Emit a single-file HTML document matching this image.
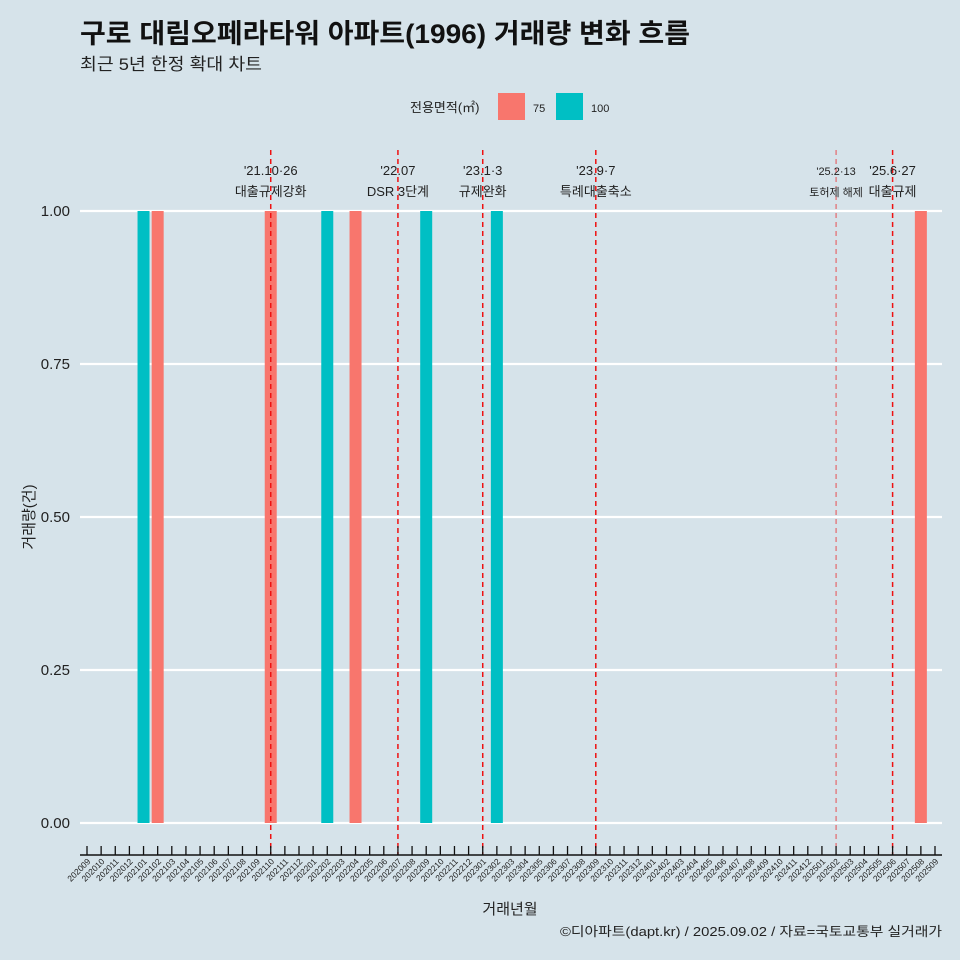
<!DOCTYPE html>
<html><head><meta charset="utf-8"><style>
body{margin:0;background:#d6e3ea;font-family:"Liberation Sans","Noto Sans CJK KR",sans-serif;}
svg{display:block}
</style></head><body>
<svg width="960" height="960" id="c" font-family="Liberation Sans, Noto Sans CJK KR, sans-serif">
<rect width="960" height="960" fill="#d6e3ea"/>
<text x="80" y="43" font-size="27" font-weight="bold" fill="#111" textLength="610" lengthAdjust="spacingAndGlyphs">구로 대림오페라타워 아파트(1996) 거래량 변화 흐름</text>
<text x="80" y="70" font-size="17" fill="#222" textLength="182" lengthAdjust="spacingAndGlyphs">최근 5년 한정 확대 차트</text>
<g>
<text x="410" y="112" font-size="13" fill="#222">전용면적(㎡)</text>
<rect x="498" y="93" width="27" height="27" fill="#f8766d"/>
<text x="533" y="112" font-size="11" fill="#222">75</text>
<rect x="556" y="93" width="27" height="27" fill="#00bfc4"/>
<text x="591" y="112" font-size="11" fill="#222">100</text>
</g>
<g id="grid"></g><g id="bars"></g><g id="events"></g><g id="xaxis"></g><g id="yaxis"></g>
<text x="510" y="914" font-size="15" text-anchor="middle" fill="#222">거래년월</text>
<text transform="translate(34,517) rotate(-90)" font-size="15" text-anchor="middle" fill="#222">거래량(건)</text>
<text x="560" y="936" font-size="13" fill="#222" textLength="382" lengthAdjust="spacingAndGlyphs">©디아파트(dapt.kr) / 2025.09.02 / 자료=국토교통부 실거래가</text>
</svg>
<script>
const months=[];for(let y=2020;y<=2025;y++)for(let m=1;m<=12;m++){const k=y*100+m;if(k>=202009&&k<=202509)months.push(String(k));}
const barMonths=["202101","202102","202110","202202","202204","202209","202302","202508"];
const barSizes=["100","75","75","100","75","100","100","75"];
const barValues=[1,1,1,1,1,1,1,1];
const yTicks=[0,0.25,0.5,0.75,1];
const yTickLabels=["0.00","0.25","0.50","0.75","1.00"];
const eventMonths=["202110","202207","202301","202309","202502","202506"];
const eventLine1=["'21.10·26","'22.07","'23.1·3","'23.9·7","'25.2·13","'25.6·27"];
const eventLine2=["대출규제강화","DSR 3단계","규제완화","특례대출축소","토허제 해제","대출규제"];
const NS="http://www.w3.org/2000/svg";
const x=m=>87+months.indexOf(m)*(935-87)/(months.length-1);
const y=v=>823-v*612;
function mk(t,a,p){const e=document.createElementNS(NS,t);for(const k in a)e.setAttribute(k,a[k]);document.getElementById(p).appendChild(e);return e;}
yTicks.forEach((v,i)=>{
 const l=mk("line",{x1:80,x2:942,y1:y(v),y2:y(v),stroke:"#fff","stroke-width":2.2},"grid");
 
 
 const t=mk("text",{x:70,y:y(v)+5,"font-size":15,"text-anchor":"end",fill:"#222"},"yaxis");t.textContent=yTickLabels[i];
 
 
});
barMonths.forEach((m,i)=>{
 const r=mk("rect",{x:x(m)-6,y:y(barValues[i]),width:12,height:y(0)-y(barValues[i]),fill:barSizes[i]==="75"?"#f8766d":"#00bfc4"},"bars");
 
 
});
const ax=mk("line",{x1:80,x2:942,y1:855,y2:855,stroke:"#111","stroke-width":1.5},"xaxis");


months.forEach(m=>{
 const tk=mk("line",{x1:x(m),x2:x(m),y1:846,y2:855,stroke:"#111","stroke-width":1.3},"xaxis");
 
 
 const t=mk("text",{transform:`translate(${x(m)+4},${862}) rotate(-45)`,"font-size":8.5,"text-anchor":"end",fill:"#222"},"xaxis");t.textContent=m;
 
 
});
eventMonths.forEach((m,i)=>{
 const small=m==="202502";
 const l=mk("line",{x1:x(m),x2:x(m),y1:150,y2:855,stroke:"#ee1111","stroke-width":small?1:1.5,"stroke-dasharray":"5,4",opacity:small?0.7:1},"events");
 
 
 const fs=small?11:13;
 const t1=mk("text",{x:x(m),y:175,"font-size":fs,"text-anchor":"middle",fill:"#222"},"events");t1.textContent=eventLine1[i];
 
 
 const t2=mk("text",{x:x(m),y:196,"font-size":fs,"text-anchor":"middle",fill:"#222"},"events");t2.textContent=eventLine2[i];
 
 
});
</script>
</body></html>
